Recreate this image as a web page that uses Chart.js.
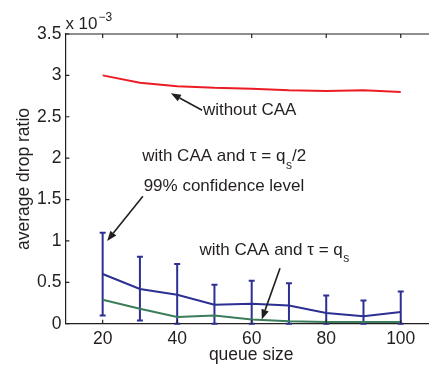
<!DOCTYPE html>
<html>
<head>
<meta charset="utf-8">
<script src="https://cdn.jsdelivr.net/npm/chart.js@4.4.1/dist/chart.umd.min.js"></script>
<style>
  html, body { margin: 0; padding: 0; background: #fff; }
  #wrap { width: 429px; height: 366px; overflow: hidden; position: relative; }
  canvas { display: block; }
</style>
</head>
<body>
<div id="wrap"><canvas id="c" width="445" height="366"></canvas></div>
<script>
// ---- data (values in units of 10^-3) ----
const queueSizes = [20, 30, 40, 50, 60, 70, 80, 90, 100];
const withoutCAA = [3.00, 2.91, 2.87, 2.85, 2.84, 2.82, 2.81, 2.82, 2.80];
const caaHalf    = [0.60, 0.42, 0.35, 0.23, 0.24, 0.22, 0.13, 0.09, 0.14];
const caaHalfHi  = [1.10, 0.81, 0.72, 0.47, 0.52, 0.49, 0.34, 0.28, 0.39];
const caaHalfLo  = [0.10, 0.04, 0.00, 0.00, 0.00, 0.00, 0.00, 0.00, 0.00];
const caaFull    = [0.29, 0.18, 0.08, 0.10, 0.05, 0.03, 0.02, 0.02, 0.02];
const xTicks = [20, 40, 60, 80, 100];
const yTicks = [0, 0.5, 1, 1.5, 2, 2.5, 3, 3.5];

const TXT = '#231f20';
const RED = '#ec1c24';
const BLUE = '#2b3092';
const GREEN = '#3b7d5a';
const FONT = '"Liberation Sans", Arial, Helvetica, sans-serif';

function pts(ys) { return queueSizes.map((x, i) => ({ x: x, y: ys[i] })); }

// annotation anchors in data coordinates
const notes = [
  { x: 46.9, y: 2.578, parts: [['without CAA', 0]] },
  { x: 30.6, y: 2.02, parts: [['with CAA and \u03c4 = q', 0], ['s', 1], ['/2', 0]] },
  { x: 31.0, y: 1.66, parts: [['99% confidence level', 0]] },
  { x: 46.0, y: 0.89, parts: [['with CAA and \u03c4 = q', 0], ['s', 1]] }
];
const arrows = [
  { x1: 46.7, y1: 2.578, x2: 38.3, y2: 2.785 },
  { x1: 30.8, y1: 1.54, x2: 21.2, y2: 1.00 },
  { x1: 67.6, y1: 0.67, x2: 62.7, y2: 0.05 }
];

const decor = {
  id: 'decor',
  beforeDatasetsDraw(chart) {
    const { ctx, scales: { x, y } } = chart;
    ctx.save();
    ctx.strokeStyle = BLUE;
    ctx.lineWidth = 2;
    queueSizes.forEach((q, i) => {
      const px = x.getPixelForValue(q);
      const yh = y.getPixelForValue(caaHalfHi[i]);
      const yl = y.getPixelForValue(caaHalfLo[i]);
      ctx.beginPath();
      ctx.moveTo(px, yh); ctx.lineTo(px, yl);
      ctx.moveTo(px - 3, yh); ctx.lineTo(px + 3, yh);
      ctx.moveTo(px - 3, yl); ctx.lineTo(px + 3, yl);
      ctx.stroke();
    });
    ctx.restore();
  },
  afterDraw(chart) {
    const { ctx, chartArea: a, scales: { x, y } } = chart;
    ctx.save();
    ctx.strokeStyle = TXT;
    ctx.fillStyle = TXT;
    ctx.lineWidth = 1.2;
    // top border
    ctx.beginPath();
    ctx.moveTo(a.left, a.top); ctx.lineTo(a.right, a.top);
    ctx.stroke();
    // inward ticks
    ctx.beginPath();
    xTicks.forEach(v => {
      const px = x.getPixelForValue(v);
      ctx.moveTo(px, a.bottom); ctx.lineTo(px, a.bottom - 4);
      ctx.moveTo(px, a.top); ctx.lineTo(px, a.top + 4);
    });
    yTicks.forEach(v => {
      const py = y.getPixelForValue(v);
      ctx.moveTo(a.left, py); ctx.lineTo(a.left + 4, py);
    });
    ctx.stroke();

    // exponent label
    ctx.textBaseline = 'alphabetic';
    ctx.textAlign = 'left';
    ctx.font = '17px ' + FONT;
    ctx.fillText('x 10', a.left, 28.5);
    const w = ctx.measureText('x 10').width;
    ctx.font = '12px ' + FONT;
    ctx.fillText('\u22123', a.left + w + 1, 21);

    // axis titles
    ctx.font = '17.5px ' + FONT;
    ctx.textAlign = 'center';
    ctx.textBaseline = 'middle';
    ctx.fillText('queue size', (x.getPixelForValue(10) + x.getPixelForValue(110)) / 2 - 0.5, 355);
    ctx.save();
    ctx.translate(24, 179);
    ctx.rotate(-Math.PI / 2);
    ctx.fillText('average drop ratio', 0, 0);
    ctx.restore();

    // annotations
    ctx.textAlign = 'left';
    notes.forEach(n => {
      let px = x.getPixelForValue(n.x);
      const py = y.getPixelForValue(n.y);
      n.parts.forEach(([t, sub]) => {
        if (sub) {
          ctx.font = '12px ' + FONT;
          ctx.textBaseline = 'middle';
          ctx.fillText(t, px + 0.5, py + 9);
          px += ctx.measureText(t).width + 0.5;
        } else {
          ctx.font = '17px ' + FONT;
          ctx.textBaseline = 'middle';
          ctx.fillText(t, px, py);
          px += ctx.measureText(t).width;
        }
      });
    });

    // arrows
    ctx.lineWidth = 1.6;
    arrows.forEach(ar => {
      const x1 = x.getPixelForValue(ar.x1), y1 = y.getPixelForValue(ar.y1);
      const x2 = x.getPixelForValue(ar.x2), y2 = y.getPixelForValue(ar.y2);
      const ang = Math.atan2(y2 - y1, x2 - x1);
      const L = 10, W = 3.8;
      const bx = x2 - L * Math.cos(ang), by = y2 - L * Math.sin(ang);
      ctx.beginPath();
      ctx.moveTo(x1, y1); ctx.lineTo(bx, by);
      ctx.stroke();
      ctx.beginPath();
      ctx.moveTo(x2, y2);
      ctx.lineTo(bx + W * Math.sin(ang), by - W * Math.cos(ang));
      ctx.lineTo(bx - W * Math.sin(ang), by + W * Math.cos(ang));
      ctx.closePath();
      ctx.fill();
    });
    ctx.restore();
  }
};

new Chart(document.getElementById('c'), {
  type: 'line',
  data: {
    datasets: [
      { label: 'without CAA', data: pts(withoutCAA), borderColor: RED, borderWidth: 2, pointRadius: 0, tension: 0 },
      { label: 'with CAA and tau = qs/2', data: pts(caaHalf), borderColor: BLUE, borderWidth: 2, pointRadius: 0, tension: 0 },
      { label: 'with CAA and tau = qs', data: pts(caaFull), borderColor: GREEN, borderWidth: 2, pointRadius: 0, tension: 0 }
    ]
  },
  options: {
    responsive: false,
    animation: false,
    devicePixelRatio: 1,
    layout: { padding: { left: 0, right: 7, top: 34, bottom: 0 } },
    plugins: { legend: { display: false }, tooltip: { enabled: false } },
    scales: {
      x: {
        type: 'linear', min: 10, max: 110,
        grid: { display: false, drawTicks: false },
        border: { display: true, color: TXT, width: 1.2 },
        afterBuildTicks: s => { s.ticks = xTicks.map(v => ({ value: v })); },
        afterFit: s => { s.height = 42.3; },
        ticks: { color: TXT, font: { family: FONT, size: 17.5 }, padding: 5, maxRotation: 0 }
      },
      y: {
        type: 'linear', min: 0, max: 3.5,
        grid: { display: false, drawTicks: false },
        border: { display: true, color: TXT, width: 1.2 },
        afterBuildTicks: s => { s.ticks = yTicks.map(v => ({ value: v })); },
        afterFit: s => { s.width = 65.4; },
        ticks: { color: TXT, font: { family: FONT, size: 17.5 }, padding: 4, callback: v => String(v) }
      }
    }
  },
  plugins: [decor]
});
</script>
</body>
</html>
